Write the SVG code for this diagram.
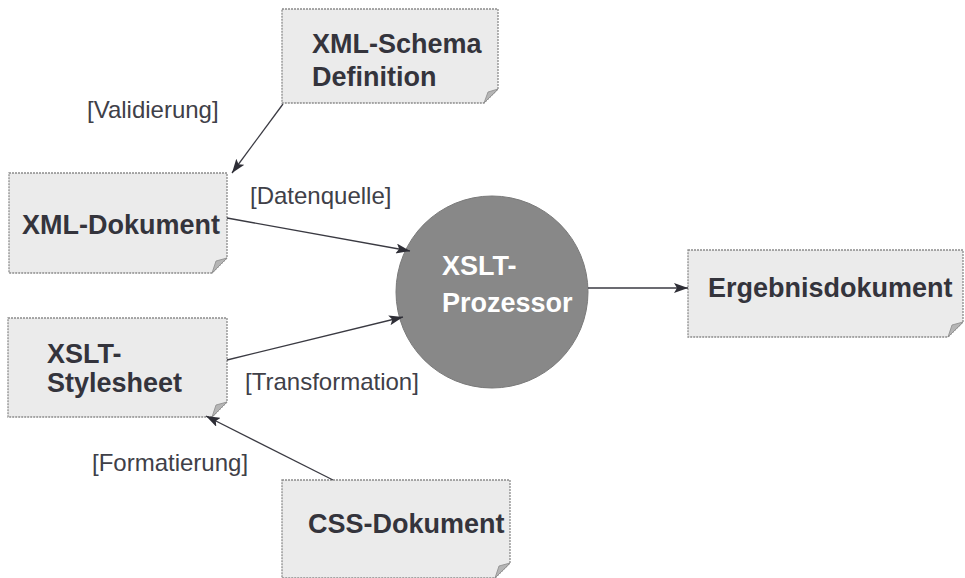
<svg xmlns="http://www.w3.org/2000/svg" width="965" height="578" viewBox="0 0 965 578">
<defs>
<marker id="arr" viewBox="0 0 14 10" refX="14" refY="5" markerWidth="14" markerHeight="10" markerUnits="userSpaceOnUse" orient="auto">
<path d="M0,0 L14,5 L0,10 L3,5 Z" fill="#2e2e36"/>
</marker>
</defs>
<style>
.box{fill:#ebebeb;stroke:#8c8c8c;stroke-width:1.3;stroke-dasharray:2 1}
.fold{fill:#b5b5b5;stroke:#8c8c8c;stroke-width:0.8}
.nt{font-family:"Liberation Sans",Arial,sans-serif;font-weight:bold;font-size:27px;fill:#34343c}
.wt{font-family:"Liberation Sans",Arial,sans-serif;font-weight:bold;font-size:27px;fill:#ffffff}
.lb{font-family:"Liberation Sans",Arial,sans-serif;font-size:24px;fill:#404048}
.cn{fill:none;stroke:#3a3a42;stroke-width:1.3}
</style>
<rect width="965" height="578" fill="#ffffff"/>

<g id="schema">
<path class="box" d="M282,9 H498 V89 L484,103 H282 Z"/>
<path class="fold" d="M498,89 L484,103 L488,92 Z"/>
<text class="nt" x="312" y="53">XML-Schema</text>
<text class="nt" x="312" y="86">Definition</text>
</g>

<g id="xmldok">
<path class="box" d="M9,173 H227 V258 L212,273 H9 Z"/>
<path class="fold" d="M227,258 L212,273 L216,261 Z"/>
<text class="nt" x="22" y="234">XML-Dokument</text>
</g>

<g id="xslt">
<path class="box" d="M8,318 H227 V402 L212,417 H8 Z"/>
<path class="fold" d="M227,402 L212,417 L216,405 Z"/>
<text class="nt" x="47" y="363">XSLT-</text>
<text class="nt" x="47" y="392">Stylesheet</text>
</g>

<g id="prozessor">
<circle cx="492" cy="292" r="96" fill="#888888" stroke="#7a7a7a" stroke-width="1"/>
<text class="wt" x="442" y="275">XSLT-</text>
<text class="wt" x="442" y="312">Prozessor</text>
</g>

<g id="ergebnis">
<path class="box" d="M688,250 H963 V322 L948,337 H688 Z"/>
<path class="fold" d="M963,322 L948,337 L952,325 Z"/>
<text class="nt" x="708" y="297">Ergebnisdokument</text>
</g>

<g id="css">
<path class="box" d="M282,480 H510 V563 L495,578 H282 Z"/>
<path class="fold" d="M510,563 L495,578 L499,566 Z"/>
<text class="nt" x="308" y="533">CSS-Dokument</text>
</g>

<g id="connectors">
<line class="cn" x1="283" y1="104" x2="232" y2="173" marker-end="url(#arr)"/>
<line class="cn" x1="227" y1="218" x2="410" y2="251" marker-end="url(#arr)"/>
<line class="cn" x1="227" y1="360" x2="403" y2="317" marker-end="url(#arr)"/>
<line class="cn" x1="333" y1="480" x2="206" y2="416" marker-end="url(#arr)"/>
<line class="cn" x1="588" y1="288" x2="688" y2="288" marker-end="url(#arr)"/>
<text class="lb" x="87" y="118">[Validierung]</text>
<text class="lb" x="250" y="204">[Datenquelle]</text>
<text class="lb" x="245" y="390">[Transformation]</text>
<text class="lb" x="92" y="471">[Formatierung]</text>
</g>
</svg>
